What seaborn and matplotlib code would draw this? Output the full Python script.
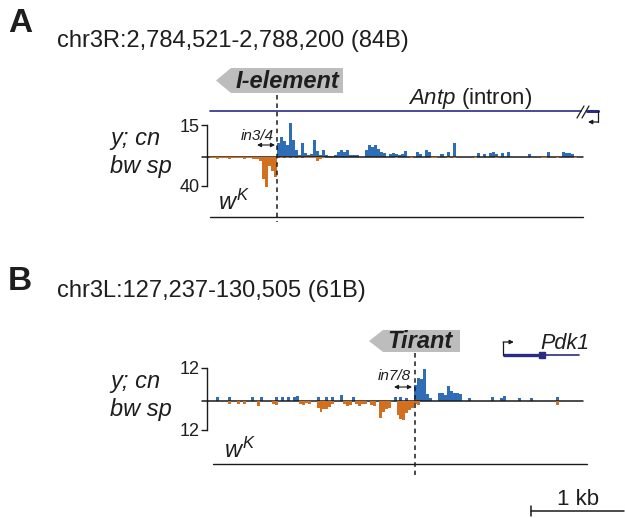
import numpy as np
import matplotlib
matplotlib.use('Agg')
import matplotlib.pyplot as plt
import matplotlib.transforms as mtransforms
from matplotlib.patches import Polygon
import seaborn as sns

# --- data ---

# panel A: chr3R region, I-element insertion inside Antp intron
a_region = 'chr3R:2,784,521-2,788,200 (84B)'
a_length = 3680          # bp shown
a_bin = 30               # bp per bin
a_insert = 662           # bp offset of the insertion site
a_plus_max, a_minus_max = 15, 40
a_plus_pos = [675, 705, 735, 765, 795, 825, 855, 885, 915, 945, 975, 1005, 1035, 1065,
              1095, 1125, 1155, 1185, 1215, 1245, 1275, 1305, 1335, 1365, 1395, 1425,
              1455, 1545, 1575, 1605, 1635, 1665, 1695, 1725, 1785, 1815, 1845, 1875,
              1905, 1935, 2055, 2085, 2145, 2175, 2295, 2355, 2415, 2655, 2715, 2775,
              2805, 2835, 2895, 2955, 3165, 3345, 3495, 3525, 3555, 3585]
a_plus_val = [6.6, 9.2, 7.5, 5.8, 16, 8.1, 3.4, 0.8, 6.6, 2, 1, 1.2, 8, 3,
              1, 3.3, 0.8, 0.6, 0.6, 0.8, 2.5, 3.5, 2.5, 3.3, 1, 0.8,
              0.8, 3.5, 5.6, 4.5, 5.8, 3.8, 2.2, 2, 1.5, 1.8, 1.5, 1,
              1.2, 2.7, 2.3, 1.2, 3.1, 2.5, 1.2, 2.3, 6.6, 2, 1.2, 1.8,
              2.3, 1.2, 2, 2.3, 1.2, 2.3, 2.3, 1.8, 1.8, 1.2]
a_minus_pos = [15, 45, 75, 105, 135, 165, 195, 225, 255, 285, 315, 345, 375, 405,
               435, 465, 495, 525, 555, 585, 615, 645, 705, 765, 825, 885, 945,
               975, 1005, 1035, 1065, 1095, 1125, 1845, 1995, 2205, 2235, 2355, 2415,
               2625, 2835, 3285, 3315, 3435, 3615]
a_minus_val = [1.5, 1, 2.5, 1.5, 2, 1.2, 2.5, 1.5, 2, 1, 2, 3, 1.5, 2,
               2.5, 3, 5, 30, 42, 12, 19, 27, 1, 1.5, 1, 2, 1.5,
               1.5, 2, 1.2, 5, 3, 1, 1.5, 1.5, 2, 1.5, 1.5, 2,
               1.5, 2, 1.5, 1.5, 1.5, 1.5]

# panel B: chr3L region, Tirant insertion upstream of Pdk1
b_region = 'chr3L:127,237-130,505 (61B)'
b_length = 3269
b_bin = 26
b_insert = 1800
b_plus_max, b_minus_max = 12, 12
b_plus_pos = [65, 169, 377, 455, 585, 637, 689, 741, 767, 949, 1027, 1079, 1157, 1261,
              1625, 1677, 1729, 1807, 1833, 1859, 1885, 1911, 1937, 2015, 2041, 2067,
              2093, 2119, 2145, 2171, 2197, 2275, 2483, 2561, 2587, 2717, 2821, 3055]
b_plus_val = [1.2, 1.2, 1.2, 1.2, 1.2, 1.2, 1.2, 1.2, 1.8, 1.2, 1.2, 1.2, 2.1, 1.2,
              1.2, 1.2, 1, 5.8, 8.2, 8, 11.5, 2.5, 1, 2.7, 2.7, 2,
              5.4, 3.7, 2.7, 2.7, 2.5, 1, 1.5, 1, 1.8, 1, 1, 1.3]
b_minus_pos = [169, 247, 299, 429, 559, 585, 793, 819, 845, 871, 949, 975, 1001, 1027,
               1053, 1079, 1183, 1209, 1235, 1287, 1313, 1339, 1365, 1417, 1443, 1495,
               1521, 1547, 1573, 1651, 1677, 1703, 1729, 1755, 1781, 1807, 1833, 3055]
b_minus_val = [1.4, 1.4, 1.4, 2.3, 1.4, 1.6, 1.2, 1.6, 1, 1.4, 2.8, 4.8, 3.5, 3.4,
               2.5, 1.5, 1.4, 2, 1.6, 1.4, 2, 1.4, 1.4, 1.8, 2, 7,
               4.8, 3.4, 3, 6, 7.5, 8, 5, 4, 3, 1.4, 1.8, 1.8]

# Pdk1 gene model in panel B (bp offsets)
pdk1_start, pdk1_exon_end, pdk1_end = 2568, 2910, 3234

BLUE = '#2f6db6'
ORANGE = '#d2701f'
NAVY = '#2b2b85'
GREY = '#bdbdbd'
INK = '#1e1e1e'

sns.set_theme(style='white')
plt.rcParams['font.family'] = ['Liberation Sans', 'DejaVu Sans']
plt.rcParams['mathtext.fontset'] = 'custom'
plt.rcParams['mathtext.rm'] = 'Liberation Sans'
plt.rcParams['mathtext.it'] = 'Liberation Sans:italic'
plt.rcParams['mathtext.bf'] = 'Liberation Sans:bold'
plt.rcParams['text.color'] = INK

W, H = 625, 518
fig = plt.figure(figsize=(W / 100, H / 100), dpi=100)
fig.patch.set_facecolor('white')


def track(top, base, bottom, length, binw, plus_pos, plus_val, minus_pos, minus_val,
          plus_max, minus_max):
    left, right = 210, 583
    ax_up = fig.add_axes([left / W, 1 - base / H, (right - left) / W, (base - top) / H])
    ax_dn = fig.add_axes([left / W, 1 - bottom / H, (right - left) / W, (bottom - base) / H])
    sns.histplot(x=plus_pos, weights=plus_val, binwidth=binw, binrange=(0, length),
                 element='step', fill=True, color=BLUE, alpha=1, linewidth=0, ax=ax_up)
    sns.histplot(x=minus_pos, weights=[-v for v in minus_val], binwidth=binw,
                 binrange=(0, length), element='step', fill=True, color=ORANGE,
                 alpha=1, linewidth=0, ax=ax_dn)
    for ax in (ax_up, ax_dn):
        ax.set_xlim(0, length)
        ax.set(xlabel='', ylabel='')
        ax.patch.set_alpha(0)
        for s in ['top', 'right', 'bottom']:
            ax.spines[s].set_visible(False)
        ax.spines['left'].set_position(('outward', 2.2))
        ax.spines['left'].set_color('k')
        ax.spines['left'].set_linewidth(1.0)
        ax.set_xticks([])
        for c in ax.collections:
            c.set_clip_on(False)
        ax.tick_params(axis='y', left=True, direction='out', length=4, width=1.0,
                       labelsize=13, pad=1, color='k', labelcolor=INK)
    ax_up.set_ylim(0, plus_max)
    ax_up.set_yticks([plus_max], [str(plus_max)])
    ax_dn.set_ylim(-minus_max, 0)
    ax_dn.set_yticks([-minus_max], [str(minus_max)])
    ax_up.axhline(0, xmin=-0.022, xmax=1, color='k', lw=1.1, clip_on=False, zorder=5)
    return ax_up, ax_dn


a_up, a_dn = track(125, 157, 186, a_length, a_bin, a_plus_pos, a_plus_val,
                   a_minus_pos, a_minus_val, a_plus_max, a_minus_max)
b_up, b_dn = track(368, 400.7, 430, b_length, b_bin, b_plus_pos, b_plus_val,
                   b_minus_pos, b_minus_val, b_plus_max, b_minus_max)

# overlay in figure pixels for labels and gene models
over = fig.add_axes([0, 0, 1, 1], zorder=10)
over.set_xlim(0, W)
over.set_ylim(H, 0)
over.axis('off')
over.patch.set_alpha(0)

blend_a = mtransforms.blended_transform_factory(a_up.transData, over.transData)
blend_b = mtransforms.blended_transform_factory(b_up.transData, over.transData)

# panel letters and region titles
over.text(8, 32, 'A', fontsize=24, fontweight='bold', va='baseline')
over.text(57, 47, a_region, fontsize=17, va='baseline')
over.text(8, 290, 'B', fontsize=24, fontweight='bold', va='baseline')
over.text(57, 297, b_region, fontsize=17, va='baseline')

# genotype labels on the left
for base_y in (145, 388):
    over.text(110, base_y, 'y; cn', fontsize=17, fontstyle='italic', va='baseline')
    over.text(110, base_y + 28, 'bw sp', fontsize=17, fontstyle='italic', va='baseline')

# w^K tracks (empty)
over.text(218, 210, r'$w^K$', fontsize=17, va='baseline')
over.plot([210, 583], [216.7, 216.7], color='k', lw=1.0)
over.text(224, 458, r'$w^K$', fontsize=17, va='baseline')
over.plot([213, 587], [464, 464], color='k', lw=1.0)

# insertion sites
over.plot([a_insert, a_insert], [95, 222], transform=blend_a, color='k', lw=1.1,
          ls=(0, (3, 2.5)), clip_on=False)
over.plot([b_insert, b_insert], [353, 475], transform=blend_b, color='k', lw=1.1,
          ls=(0, (3, 2.5)), clip_on=False)

# transposon labels
over.add_patch(Polygon([(216, 80.5), (231, 68), (343, 68), (343, 93), (231, 93)],
                       closed=True, facecolor=GREY, edgecolor='none'))
over.text(287, 81.5, 'I-element', fontsize=17, fontweight='bold', fontstyle='italic',
          ha='center', va='center')
over.add_patch(Polygon([(369, 341), (383, 330), (460, 330), (460, 352), (383, 352)],
                       closed=True, facecolor=GREY, edgecolor='none'))
over.text(420, 342, 'Tirant', fontsize=17, fontweight='bold', fontstyle='italic',
          ha='center', va='center')

# intron spans
over.text(257, 140, 'in3/4', fontsize=11, fontstyle='italic', ha='center', va='baseline')
over.annotate('', xy=(257, 145), xytext=(275, 145),
              arrowprops=dict(arrowstyle='<|-|>', color='k', lw=0.8, mutation_scale=6,
                              shrinkA=0, shrinkB=0))
over.text(394, 380, 'in7/8', fontsize=11, fontstyle='italic', ha='center', va='baseline')
over.annotate('', xy=(394, 387), xytext=(412, 387),
              arrowprops=dict(arrowstyle='<|-|>', color='k', lw=0.8, mutation_scale=6,
                              shrinkA=0, shrinkB=0))

# Antp intron line with break and TSS
over.plot([210, 581], [111, 111], color=NAVY, lw=1.2)
over.plot([577, 584], [118, 106], color='k', lw=0.9)
over.plot([582, 589], [118, 106], color='k', lw=0.9)
over.plot([587, 598], [111, 111], color=NAVY, lw=2.2)
over.plot([597.5, 597.5], [111, 122], color='k', lw=0.9)
over.annotate('', xy=(588, 122), xytext=(598, 122),
              arrowprops=dict(arrowstyle='-|>', color='k', lw=0.9, mutation_scale=6,
                              shrinkA=0, shrinkB=0))
over.text(408, 104, r'$\mathit{Antp}$ (intron)', fontsize=16, va='baseline')

# Pdk1 gene model
over.plot([pdk1_start, pdk1_exon_end], [355, 355], transform=blend_b, color=NAVY,
          lw=2.4, solid_capstyle='butt', clip_on=False)
over.plot([pdk1_exon_end, pdk1_end], [355, 355], transform=blend_b, color=NAVY,
          lw=1.2, clip_on=False)
over.plot([pdk1_exon_end], [355], transform=blend_b, marker='s', ms=4.5, color=NAVY,
          clip_on=False)
over.plot([pdk1_start, pdk1_start], [355, 342], transform=blend_b, color='k', lw=0.9,
          clip_on=False)
over.annotate('', xy=(pdk1_start + 95, 342), xytext=(pdk1_start, 342),
              xycoords=blend_b, textcoords=blend_b,
              arrowprops=dict(arrowstyle='-|>', color='k', lw=0.9, mutation_scale=6,
                              shrinkA=0, shrinkB=0))
over.text(540, 349, 'Pdk1', fontsize=15.5, fontstyle='italic', va='baseline')

# scale bar
over.plot([531, 624], [511, 511], color='k', lw=1.1)
over.plot([531, 531], [506, 516], color='k', lw=1.1)
over.text(578, 505, '1 kb', fontsize=16, ha='center', va='baseline')

fig.savefig('out.png', dpi=100)
